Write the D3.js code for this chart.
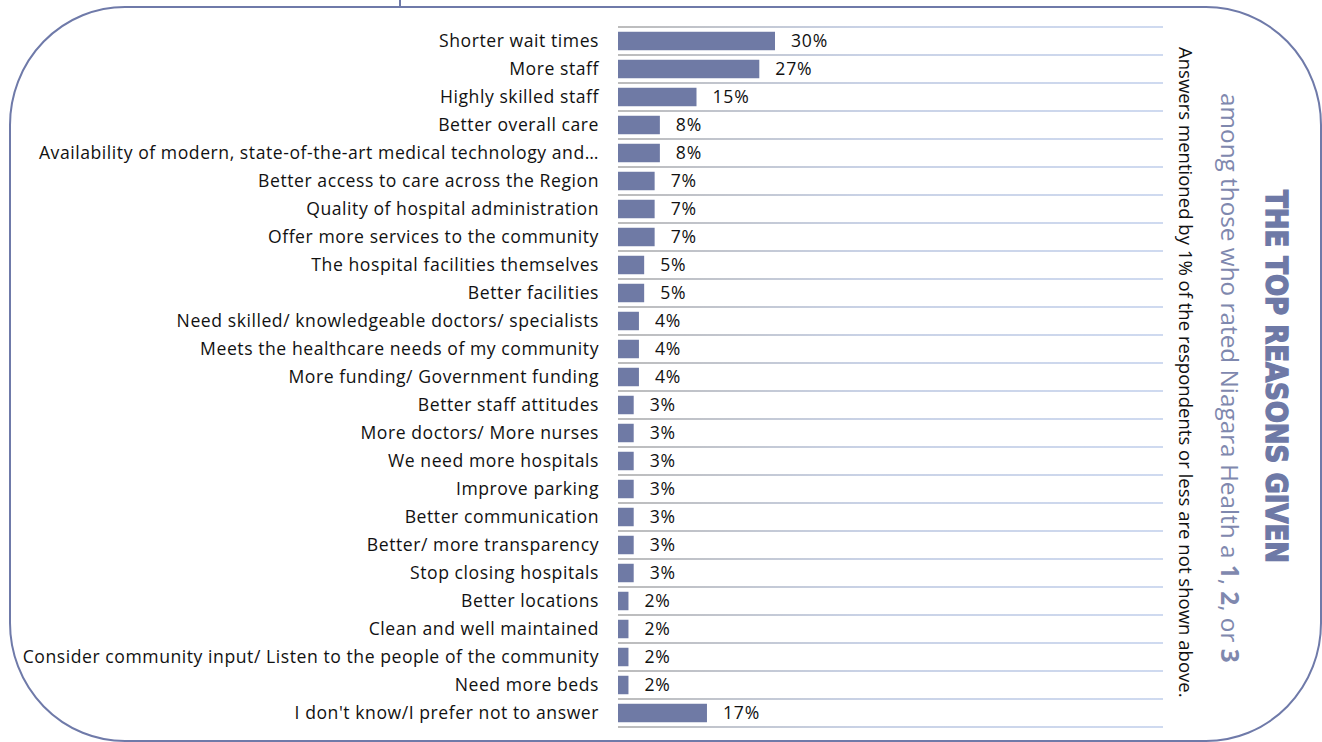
<!DOCTYPE html>
<html>
<head>
<meta charset="utf-8">
<script src="https://cdn.jsdelivr.net/npm/d3@7"></script>
<style>
  html, body { margin: 0; padding: 0; background: #fff; }
  svg { display: block; }
</style>
</head>
<body>
<svg id="chart" width="1322" height="742"></svg>
<script>
// Reasons given by respondents (share of mentions, %)
const categories = [
  "Shorter wait times",
  "More staff",
  "Highly skilled staff",
  "Better overall care",
  "Availability of modern, state-of-the-art medical technology and…",
  "Better access to care across the Region",
  "Quality of hospital administration",
  "Offer more services to the community",
  "The hospital facilities themselves",
  "Better facilities",
  "Need skilled/ knowledgeable doctors/ specialists",
  "Meets the healthcare needs of my community",
  "More funding/ Government funding",
  "Better staff attitudes",
  "More doctors/ More nurses",
  "We need more hospitals",
  "Improve parking",
  "Better communication",
  "Better/ more transparency",
  "Stop closing hospitals",
  "Better locations",
  "Clean and well maintained",
  "Consider community input/ Listen to the people of the community",
  "Need more beds",
  "I don't know/I prefer not to answer"
];
const values = [30, 27, 15, 8, 8, 7, 7, 7, 5, 5, 4, 4, 4, 3, 3, 3, 3, 3, 3, 3, 2, 2, 2, 2, 17];

const titleText = "THE TOP REASONS GIVEN";
const subtitleParts = [
  { t: "among those who rated Niagara Health a ", b: false },
  { t: "1", b: true }, { t: ", ", b: false },
  { t: "2", b: true }, { t: ", or ", b: false },
  { t: "3", b: true }
];
const noteText = "Answers mentioned by 1% of the respondents or less are not shown above.";

const svg = d3.select("#chart");
const accent = "#6e79a6";
const labelFont = "'Open Sans', Lato, sans-serif";
const labelSize = 17.6;

// Outer rounded frame
svg.append("rect")
  .attr("x", 10).attr("y", 7)
  .attr("width", 1311).attr("height", 734)
  .attr("rx", 115).attr("ry", 118)
  .attr("fill", "none")
  .attr("stroke", "#6f7aa9")
  .attr("stroke-width", 2);
svg.append("line")
  .attr("x1", 400).attr("x2", 400).attr("y1", 0).attr("y2", 7)
  .attr("stroke", "#6f7aa9").attr("stroke-width", 2);

// Scales
const y = d3.scaleBand()
  .domain(categories)
  .range([27, 727])
  .paddingInner(0.34)
  .paddingOuter(0.17);
const x = d3.scaleLinear().domain([0, 30]).range([618, 775]);

// Row separators, fading from grey to pale blue
const grad = svg.append("defs").append("linearGradient")
  .attr("id", "rowLine")
  .attr("gradientUnits", "userSpaceOnUse")
  .attr("x1", 618).attr("x2", 1163).attr("y1", 0).attr("y2", 0);
grad.append("stop").attr("offset", "0%").attr("stop-color", "#bcbcbc");
grad.append("stop").attr("offset", "45%").attr("stop-color", "#c9d2e6");
grad.append("stop").attr("offset", "100%").attr("stop-color", "#cfdaf0");

const lineYs = d3.range(categories.length + 1).map(i => y.range()[0] + i * y.step());
svg.append("g").selectAll("line")
  .data(lineYs)
  .join("line")
  .attr("x1", 618).attr("x2", 1163)
  .attr("y1", d => d).attr("y2", d => d)
  .attr("stroke", "url(#rowLine)")
  .attr("stroke-width", 2);

// Bars
const rows = categories.map((c, i) => ({ c, v: values[i] }));
svg.append("g").selectAll("rect")
  .data(rows)
  .join("rect")
  .attr("x", x(0))
  .attr("y", d => y(d.c))
  .attr("width", d => x(d.v) - x(0))
  .attr("height", y.bandwidth())
  .attr("fill", "#6f7aa5");

// Value labels
svg.append("g").selectAll("text")
  .data(rows)
  .join("text")
  .attr("x", d => x(d.v) + 16)
  .attr("y", d => y(d.c) + y.bandwidth() / 2)
  .attr("dy", "0.36em")
  .attr("font-family", labelFont)
  .attr("font-size", labelSize)
  .attr("letter-spacing", 0.8)
  .attr("fill", "#111")
  .text(d => d.v + "%");

// Category axis (labels only)
const yAxis = svg.append("g")
  .attr("transform", "translate(599,0)")
  .call(d3.axisLeft(y).tickSize(0).tickPadding(0));
yAxis.select(".domain").remove();
yAxis.selectAll("text")
  .attr("font-family", labelFont)
  .attr("font-size", labelSize)
  .attr("letter-spacing", 0.55)
  .attr("fill", "#111")
  .attr("dy", "0.36em");

// Vertical note and titles on the right
function vtext(cx, y0, cls) {
  return svg.append("text")
    .attr("class", cls)
    .attr("transform", `translate(${cx},${y0}) rotate(90)`)
    .attr("dominant-baseline", "central");
}

const note = vtext(1186, 47, "note")
  .attr("font-family", labelFont)
  .attr("font-size", 16)
  .attr("fill", "#111")
  .text(noteText);
// fit note to its column length
{
  const w = note.node().getComputedTextLength();
  note.attr("font-size", 16 * 651 / w);
}

const sub = vtext(1231, 93, "subtitle")
  .attr("font-family", labelFont)
  .attr("font-size", 21)
  .attr("fill", "#7f88ae");
sub.selectAll("tspan")
  .data(subtitleParts)
  .join("tspan")
  .attr("font-weight", d => d.b ? 700 : 400)
  .text(d => d.t);
{
  const w = sub.node().getComputedTextLength();
  sub.attr("font-size", 21 * 570 / w);
}

vtext(1277, 190, "title")
  .attr("font-family", "'DejaVu Sans Condensed', 'DejaVu Sans', sans-serif")
  .attr("font-stretch", "condensed")
  .attr("font-weight", 700)
  .attr("font-size", 31)
  .attr("fill", accent)
  .attr("stroke", accent)
  .attr("stroke-width", 1.4)
  .attr("textLength", 373)
  .attr("lengthAdjust", "spacingAndGlyphs")
  .text(titleText);
</script>
</body>
</html>
